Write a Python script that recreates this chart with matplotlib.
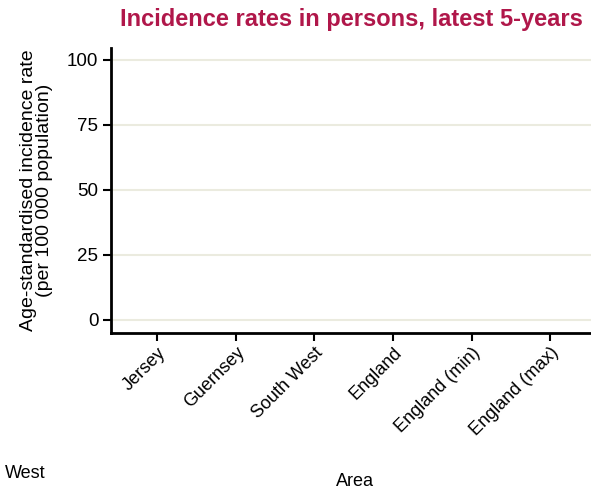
import matplotlib
matplotlib.use("Agg")
import matplotlib.pyplot as plt

plt.rcParams["font.family"] = ["Liberation Sans", "DejaVu Sans"]

# chart data (no rates were published for this period, so nothing is plotted)
areas = ["Jersey", "Guernsey", "South West", "England", "England (min)", "England (max)"]
rates = [None, None, None, None, None, None]
y_ticks = [0, 25, 50, 75, 100]

TITLE_RED = "#b0174a"
GRID = "#ebebdf"

fig = plt.figure(figsize=(5.91, 4.93), dpi=100)
ax = fig.add_axes([111 / 591, 1 - 333 / 493, 480 / 591, 285 / 493])

x = list(range(len(areas)))
pts = [(i, r) for i, r in zip(x, rates) if r is not None]
if pts:
    ax.scatter([p[0] for p in pts], [p[1] for p in pts], color=TITLE_RED, zorder=3)

ax.set_xlim(-0.59, 5.52)
ax.set_ylim(-5, 104.6)
ax.set_yticks(y_ticks)
ax.set_xticks(x)
ax.set_xticklabels(areas, rotation=45, ha="right", rotation_mode="anchor", fontsize=13)
ax.tick_params(axis="y", labelsize=13.5, length=6, width=1.5, pad=3)
ax.tick_params(axis="x", length=6, width=1.5, pad=2)

for y in y_ticks:
    ax.axhline(y, color=GRID, lw=1.5, zorder=0)

for s in ("top", "right"):
    ax.spines[s].set_visible(False)
for s in ("left", "bottom"):
    ax.spines[s].set_linewidth(2)

ax.set_ylabel("Age-standardised incidence rate\n(per 100 000 population)", fontsize=14,
              linespacing=0.95, labelpad=10)
ax.set_title("Incidence rates in persons, latest 5-years", color=TITLE_RED,
             fontweight="bold", fontsize=17, pad=16)
fig.text(355 / 591, 1 - 481 / 493, "Area", ha="center", va="center", fontsize=13)
fig.text(5 / 591, 1 - 473 / 493, "West", ha="left", va="center", fontsize=13)

fig.savefig("out.png", dpi=100)
